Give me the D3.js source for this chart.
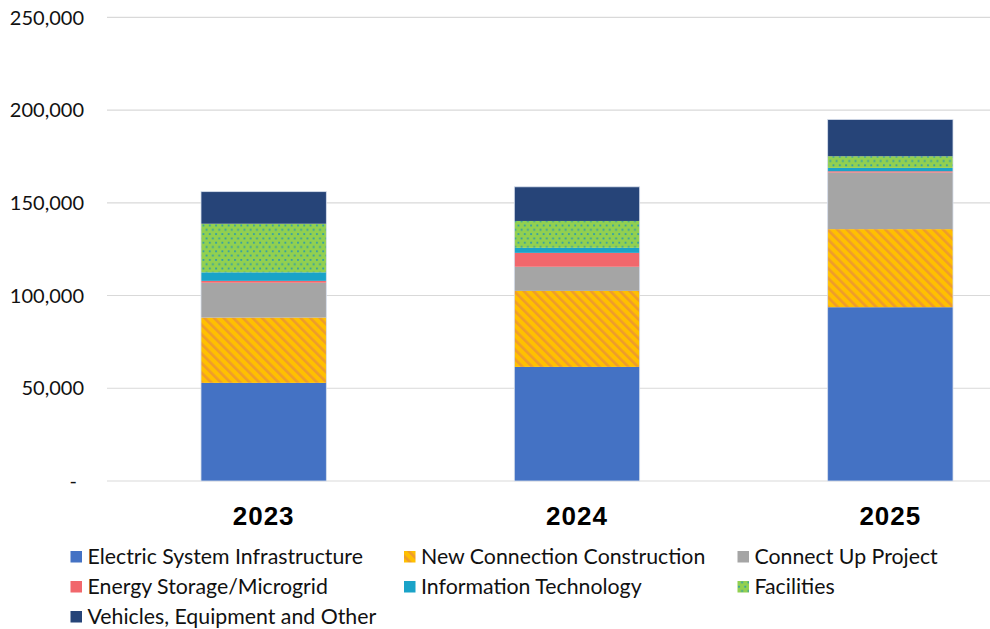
<!DOCTYPE html>
<html>
<head>
<meta charset="utf-8">
<script src="https://cdn.jsdelivr.net/npm/d3@7"></script>
<style>
  html, body { margin: 0; padding: 0; background: #fff; }
  svg { display: block; }
</style>
</head>
<body>
<svg id="chart" width="990" height="629"></svg>
<script>
// ── Data (thousands) ──
const years = ['2023', '2024', '2025'];
const seriesNames = [
  'Electric System Infrastructure', 'New Connection Construction', 'Connect Up Project',
  'Energy Storage/Microgrid', 'Information Technology', 'Facilities',
  'Vehicles, Equipment and Other'
];
const electricSystem = [52900, 61500, 93700];
const newConnection  = [35200, 41000, 42100];
const connectUp      = [18800, 13000, 30500];
const energyStorage  = [1000, 7500, 700];
const infoTech       = [4600, 2700, 1800];
const facilities     = [26200, 14500, 6300];
const vehicles       = [17300, 18400, 19800];
const yTicks = [0, 50000, 100000, 150000, 200000, 250000];

const seriesValues = [electricSystem, newConnection, connectUp, energyStorage, infoTech, facilities, vehicles];
const fills = ['#4472C4', 'url(#stripes)', '#A5A5A5', '#F1676C', '#1AA3C8', 'url(#dots)', '#264478'];

const svg = d3.select('#chart');
const W = 990;

// ── Scales ──
const x = d3.scaleBand().domain(years).range([107, 1047]).paddingInner(0.6).paddingOuter(0.3);
const y = d3.scaleLinear().domain([0, 250000]).range([481, 17.3]);

// ── Patterns ──
const defs = svg.append('defs');
const st = defs.append('pattern').attr('id', 'stripes').attr('patternUnits', 'userSpaceOnUse')
  .attr('width', 6.8).attr('height', 6.8).attr('patternTransform', 'rotate(-45)');
st.append('rect').attr('width', 6.8).attr('height', 6.8).attr('fill', '#FFC000');
st.append('rect').attr('width', 2.6).attr('height', 6.8).attr('fill', '#EE9C2C');

const dt = defs.append('pattern').attr('id', 'dots').attr('patternUnits', 'userSpaceOnUse')
  .attr('width', 6.3).attr('height', 8.6);
dt.append('rect').attr('width', 6.3).attr('height', 8.6).attr('fill', '#92D050');
dt.append('rect').attr('x', 1).attr('y', 1).attr('width', 1.8).attr('height', 1.8).attr('fill', '#2F9EA8');
dt.append('rect').attr('x', 4.1).attr('y', 5.3).attr('width', 1.8).attr('height', 1.8).attr('fill', '#2F9EA8');

// ── Gridlines + y labels ──
const grid = svg.append('g');
yTicks.forEach(t => {
  grid.append('line').attr('x1', 107).attr('x2', W).attr('y1', y(t)).attr('y2', y(t))
    .attr('stroke', '#D9D9D9').attr('stroke-width', 1.2);
  grid.append('text').attr('x', t === 0 ? 77 : 84).attr('y', y(t)).attr('dy', '0.36em')
    .attr('text-anchor', 'end').attr('font-family', 'Lato').attr('font-size', '20px').attr('fill', '#111')
    .text(t === 0 ? '-' : d3.format(',')(t));
});

// ── Stacked bars ──
const table = years.map((yr, i) => {
  const row = { year: yr };
  seriesNames.forEach((s, j) => { row[s] = seriesValues[j][i]; });
  return row;
});
const stacked = d3.stack().keys(seriesNames)(table);

svg.append('g').selectAll('g').data(stacked).enter().append('g')
  .attr('fill', (d, i) => fills[i])
  .selectAll('rect').data(d => d).enter().append('rect')
  .attr('x', d => x(d.data.year))
  .attr('width', x.bandwidth())
  .attr('y', d => y(d[1]))
  .attr('height', d => y(d[0]) - y(d[1]));

// thin light outline round each bar
svg.append('g').selectAll('rect').data(stacked[stacked.length - 1]).enter().append('rect')
  .attr('x', d => x(d.data.year)).attr('width', x.bandwidth())
  .attr('y', d => y(d[1])).attr('height', d => y(0) - y(d[1]))
  .attr('fill', 'none').attr('stroke', '#D6DEEC').attr('stroke-width', 0.8);

// ── x labels ──
svg.append('g').selectAll('text').data(years).enter().append('text')
  .attr('x', d => x(d) + x.bandwidth() / 2).attr('y', 525)
  .attr('text-anchor', 'middle').attr('font-family', 'Liberation Sans, Arial').attr('font-weight', 'bold')
  .attr('font-size', '26px').attr('letter-spacing', '1px').attr('fill', '#000')
  .text(d => d);

// ── Legend ──
const legCols = [70.5, 404, 737.5];
const legRows = [564, 594, 624];
const lg = svg.append('g');
seriesNames.forEach((s, i) => {
  const cx = legCols[i % 3], cy = legRows[Math.floor(i / 3)];
  lg.append('rect').attr('x', cx).attr('y', cy - 13).attr('width', 11.5).attr('height', 11.5).attr('fill', fills[i]);
  lg.append('text').attr('x', cx + 17).attr('y', cy)
    .attr('font-family', 'Lato').attr('font-size', '21.3px').attr('fill', '#111').text(s);
});
</script>
</body>
</html>
